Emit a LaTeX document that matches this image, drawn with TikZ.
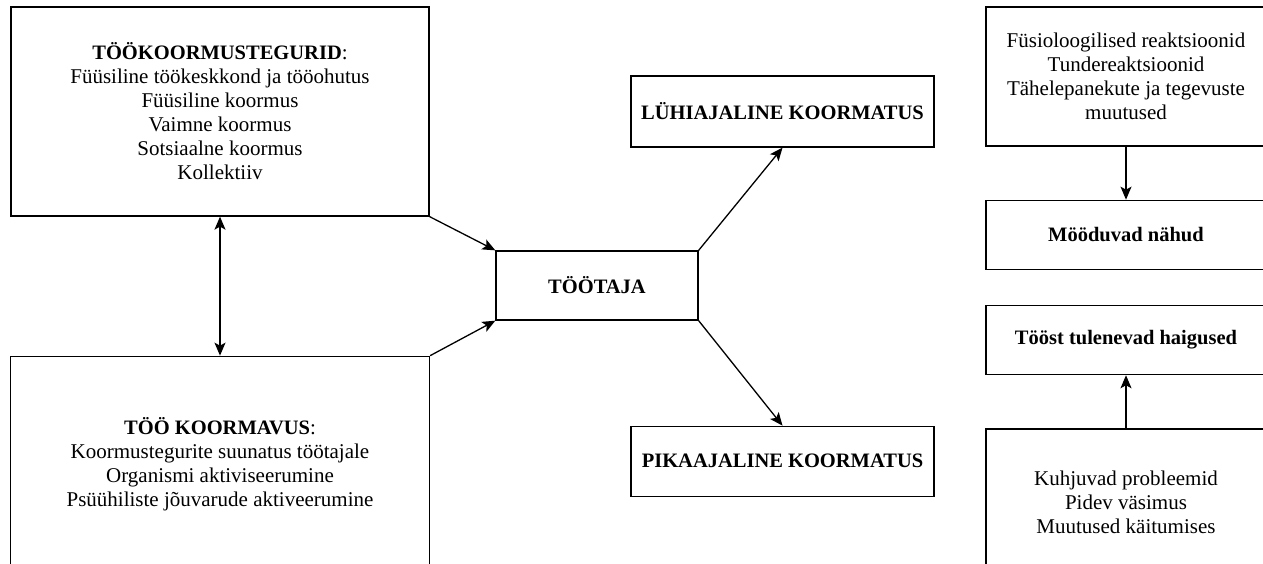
\documentclass[tikz,border=0pt]{standalone}
\usepackage{fontspec}
\setmainfont{Liberation Serif}
\usetikzlibrary{arrows.meta,positioning}
\tikzset{%
        >={Stealth[length=13pt,width=11pt,inset=3pt]},
        node distance=2.5cm
}
\tikzstyle{box}=[
    draw = black,
    line width = 1.3pt,
    align = center,
    inner sep = 0pt,
    font = \fontsize{21}{24}\selectfont
]
\tikzstyle{every edge}=[
    draw = black,
    line width = 1.3pt,
    ->
]
\newcommand{\hd}[1]{\textbf{\fontsize{20.5}{24}\selectfont #1}}

\begin{document}
\begin{tikzpicture}[x=1pt, y=-1pt]
        \useasboundingbox (0,0) rectangle (1263,563);
        \clip (0,0) rectangle (1263,563);
        \node[box, minimum width=418pt, minimum height=209pt] (tegurid) at (220,111.5)
            {\hd{TÖÖKOORMUSTEGURID}:\\Füüsiline töökeskkond ja tööohutus\\Füüsiline koormus\\Vaimne koormus\\Sotsiaalne koormus\\Kollektiiv};
        \node[box, minimum width=419pt, minimum height=216pt] (koormavus) [below=139pt of tegurid]
            {\hd{TÖÖ KOORMAVUS}:\\Koormustegurite suunatus töötajale\\Organismi aktiviseerumine\\Psüühiliste jõuvarude aktiveerumine};
        \node[box, minimum width=202pt, minimum height=69pt] (tootaja) at (597,285.5) {\hd{TÖÖTAJA}};
        \node[box, minimum width=303pt, minimum height=71pt] (lyhi) at (782.5,111.5) {\hd{LÜHIAJALINE KOORMATUS}};
        \node[box, minimum width=303pt, minimum height=70pt] (pika) [below=278pt of lyhi] {\hd{PIKAAJALINE KOORMATUS}};
        \node[box, minimum width=280pt, minimum height=139pt] (fysio) at (1126,76.5)
            {Füsioloogilised reaktsioonid\\Tundereaktsioonid\\Tähelepanekute ja tegevuste\\muutused};
        \node[box, minimum width=280pt, minimum height=69pt] (mooduvad) [below=53pt of fysio] {\hd{Mööduvad nähud}};
        \node[box, minimum width=280pt, minimum height=69pt] (haigused) [below=35pt of mooduvad] {\hd{Tööst tulenevad haigused}};
        \node[box, minimum width=280pt, minimum height=147pt] (kuhjuvad) [below=53pt of haigused]
            {Kuhjuvad probleemid\\Pidev väsimus\\Muutused käitumises};
      \path
      (tegurid.south east) edge (tootaja.north west)
      (koormavus.north east) edge (tootaja.south west)
      (tegurid.south) edge[<->] (koormavus.north)
      (tootaja.north east) edge (lyhi.south)
      (tootaja.south east) edge (pika.north)
      (fysio) edge (mooduvad)
      (kuhjuvad) edge (haigused)
      ;
    \end{tikzpicture}
\end{document}
